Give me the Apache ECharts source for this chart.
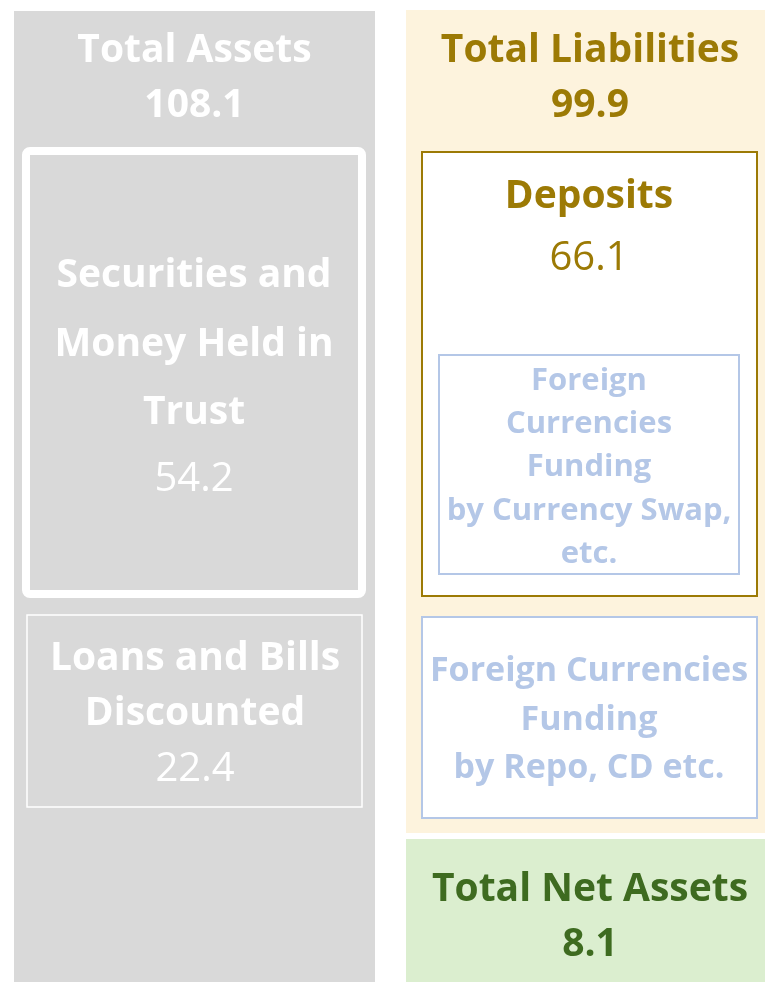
<!DOCTYPE html>
<html>
<head>
<meta charset="utf-8">
<script src="https://cdn.jsdelivr.net/npm/echarts@6/dist/echarts.min.js"></script>
<style>
  html, body { margin: 0; padding: 0; background: #ffffff; }
  #chart { width: 765px; height: 982px; }
</style>
</head>
<body>
<div id="chart"></div>
<script>
// ---- Data ----
const totalLabels = ['Total Assets', 'Total Liabilities', 'Total Net Assets'];
const totalValues = [108.1, 99.9, 8.1];
const assetLabels = ['Securities and\nMoney Held in\nTrust', 'Loans and Bills\nDiscounted'];
const assetValues = [54.2, 22.4];
const liabilityLabels = ['Deposits', 'Foreign\nCurrencies\nFunding\nby Currency Swap,\netc.', 'Foreign Currencies\nFunding\nby Repo, CD etc.'];
const liabilityValues = [66.1, null, null];

// ---- Layout / styles (schematic, not to scale) ----
const FONT = '"Open Sans", "Noto Sans", sans-serif';
const OLIVE = '#9c7a05';
const BLUE = '#b4c7e7';
const GREEN_TXT = '#3e6b20';
const TEXT_DY = 3;

const boxes = [
  // 0 Total Assets column
  { x0: 14, y0: 11, x1: 375, y1: 982, fill: '#d9d9d9', stroke: null, lw: 0, r: 0,
    label: () => totalLabels[0], value: () => totalValues[0],
    cx: 194.5, nameY: 48, lineH: 55, size: 39, weight: 'bold', valueY: 103, valueSize: 39, valueWeight: 'bold', color: '#ffffff' },
  // 1 Total Liabilities column
  { x0: 406, y0: 10, x1: 765, y1: 833, fill: '#fdf3dd', stroke: null, lw: 0, r: 0,
    label: () => totalLabels[1], value: () => totalValues[1],
    cx: 590, nameY: 48, lineH: 55, size: 39, weight: 'bold', valueY: 103, valueSize: 39, valueWeight: 'bold', color: OLIVE },
  // 2 Total Net Assets
  { x0: 406, y0: 839, x1: 765, y1: 982, fill: '#dbeecf', stroke: null, lw: 0, r: 0,
    label: () => totalLabels[2], value: () => totalValues[2],
    cx: 590, nameY: 887, lineH: 55, size: 39, weight: 'bold', valueY: 942, valueSize: 39, valueWeight: 'bold', color: GREEN_TXT },
  // 3 Securities
  { x0: 26, y0: 151, x1: 362, y1: 594, fill: '#d9d9d9', stroke: '#ffffff', lw: 8, r: 4,
    label: () => assetLabels[0], value: () => assetValues[0],
    cx: 194, nameY: 341.5, lineH: 68.5, size: 39, weight: 'bold', valueY: 477, valueSize: 40, valueWeight: 'normal', color: '#ffffff' },
  // 4 Loans
  { x0: 27, y0: 615, x1: 362, y1: 807, fill: '#d9d9d9', stroke: '#ffffff', lw: 1.5, r: 0,
    label: () => assetLabels[1], value: () => assetValues[1],
    cx: 195, nameY: 683.5, lineH: 55, size: 39, weight: 'bold', valueY: 767, valueSize: 40, valueWeight: 'normal', color: '#ffffff' },
  // 5 Deposits
  { x0: 422, y0: 152, x1: 757, y1: 596, fill: '#ffffff', stroke: OLIVE, lw: 2, r: 0,
    label: () => liabilityLabels[0], value: () => liabilityValues[0],
    cx: 589, nameY: 194, lineH: 55, size: 39, weight: 'bold', valueY: 256, valueSize: 40, valueWeight: 'normal', color: OLIVE },
  // 6 FX swap
  { x0: 439, y0: 355, x1: 739, y1: 574, fill: '#ffffff', stroke: BLUE, lw: 2, r: 0,
    label: () => liabilityLabels[1], value: () => liabilityValues[1],
    cx: 589, nameY: 464.5, lineH: 43.3, size: 31, weight: 'bold', color: BLUE },
  // 7 Repo
  { x0: 422, y0: 617, x1: 757, y1: 818, fill: '#ffffff', stroke: BLUE, lw: 2, r: 0,
    label: () => liabilityLabels[2], value: () => liabilityValues[2],
    cx: 589, nameY: 717, lineH: 48.5, size: 34, weight: 'bold', color: BLUE }
];

const chart = echarts.init(document.getElementById('chart'), null, { renderer: 'canvas' });

function renderItem(params, api) {
  const b = boxes[api.value(0)];
  const p0 = api.coord([b.x0, b.y0]);
  const p1 = api.coord([b.x1, b.y1]);
  const pc = api.coord([b.cx, b.nameY + TEXT_DY]);
  const children = [{
    type: 'rect',
    shape: { x: p0[0], y: p0[1], width: p1[0] - p0[0], height: p1[1] - p0[1], r: b.r },
    style: { fill: b.fill, stroke: b.stroke || null, lineWidth: b.lw }
  }, {
    type: 'text',
    style: {
      text: b.label(), x: pc[0], y: pc[1], align: 'center', verticalAlign: 'middle',
      fill: b.color, fontSize: b.size, fontWeight: b.weight, fontFamily: FONT, lineHeight: b.lineH
    }
  }];
  const v = b.value();
  if (v != null) {
    const pv = api.coord([b.cx, b.valueY + TEXT_DY]);
    children.push({
      type: 'text',
      style: {
        text: v.toFixed(1), x: pv[0], y: pv[1], align: 'center', verticalAlign: 'middle',
        fill: b.color, fontSize: b.valueSize, fontWeight: b.valueWeight, fontFamily: FONT
      }
    });
  }
  return { type: 'group', children };
}

chart.setOption({
  animation: false,
  backgroundColor: '#ffffff',
  grid: { left: 0, right: 0, top: 0, bottom: 0 },
  xAxis: { type: 'value', min: 0, max: 765, show: false },
  yAxis: { type: 'value', min: 0, max: 982, inverse: true, show: false },
  series: [{
    type: 'custom',
    renderItem: renderItem,
    data: boxes.map((b, i) => [i]),
    clip: false
  }]
});
</script>
</body>
</html>
